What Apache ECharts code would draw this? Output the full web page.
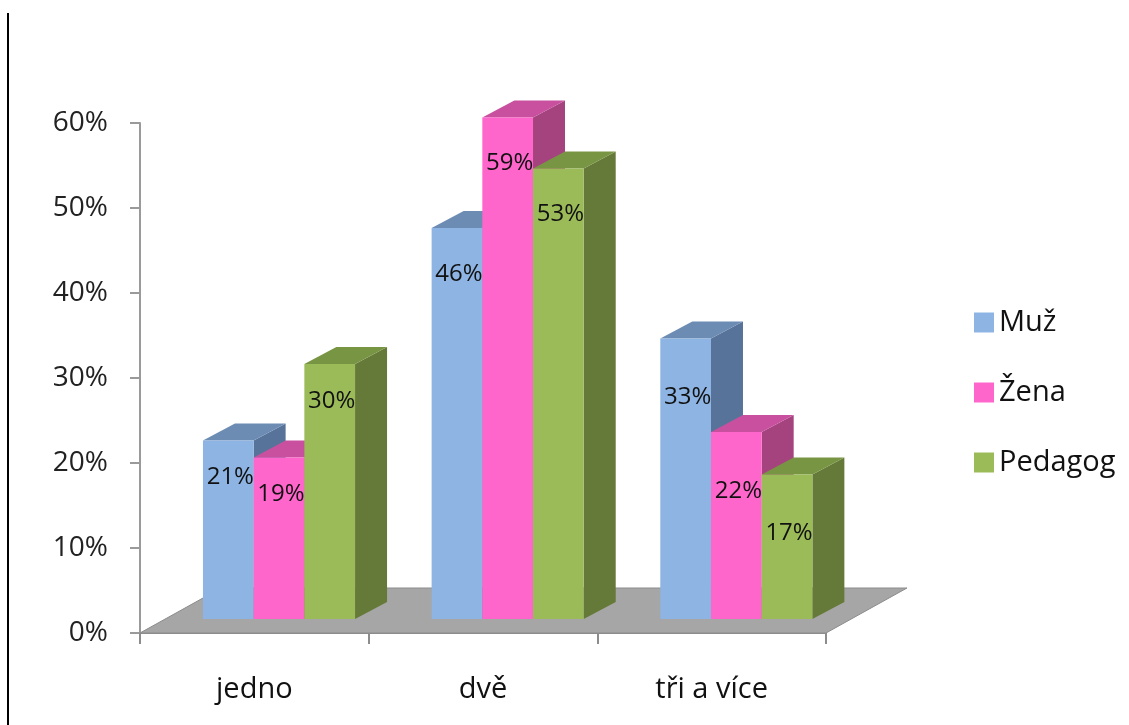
<!DOCTYPE html>
<html>
<head>
<meta charset="utf-8">
<style>
  html, body { margin: 0; padding: 0; background: #fff; }
  #chart { width: 1129px; height: 725px; }
</style>
<script src="https://cdn.jsdelivr.net/npm/echarts@6/dist/echarts.min.js"></script>
</head>
<body>
<div id="chart"></div>
<script>
const categories = ["jedno", "dvě", "tři a více"];
const seriesNames = ["Muž", "Žena", "Pedagog"];
const muz = [21, 46, 33];
const zena = [19, 59, 22];
const pedagog = [30, 53, 17];

const FONT = "Open Sans";
// front / top / side shades per series
const shades = [
  ["#8DB4E2", "#6D8CB4", "#58739A"],
  ["#FF66CC", "#C8509F", "#A5437F"],
  ["#9BBB59", "#789543", "#657A38"],
];
// bar plane offset from the axis plane, bar depth, floor depth
const plane = [25, -14];
const depth = [32, -17];
const floorDepth = [81, -45];
const labelDrop = [37, 46, 59];

function barRender(si) {
  return function (params, api) {
    const idx = api.value(0);
    const v = api.value(1);
    const band = api.size([1, 0])[0];
    const top = api.coord([idx, v]);
    const base = api.coord([idx, 0]);
    const w = band * 0.2217;
    const x0 = top[0] - band / 2 + band * 0.166 + si * w + plane[0];
    const x1 = x0 + w;
    const yT = top[1] + plane[1];
    const yB = base[1] + plane[1];
    const [dx, dy] = depth;
    const s = shades[si];
    return {
      type: "group",
      children: [
        {
          type: "polygon",
          shape: { points: [[x1, yT], [x1 + dx, yT + dy], [x1 + dx, yB + dy], [x1, yB]] },
          style: { fill: s[2] },
        },
        {
          type: "polygon",
          shape: { points: [[x0, yT], [x1, yT], [x1 + dx, yT + dy], [x0 + dx, yT + dy]] },
          style: { fill: s[1] },
        },
        {
          type: "rect",
          shape: { x: x0, y: yT, width: w, height: yB - yT },
          style: { fill: s[0] },
        },
        {
          type: "text",
          z2: 100,
          x: x0 + w / 2 + 2,
          y: yT + labelDrop[idx],
          style: {
            text: v + "%",
            font: "24px '" + FONT + "'",
            fill: "#111",
            align: "center",
            verticalAlign: "middle",
          },
        },
      ],
    };
  };
}

function floorRender(params, api) {
  const cs = params.coordSys;
  const xl = cs.x, xr = cs.x + cs.width, yb = cs.y + cs.height;
  const [dx, dy] = floorDepth;
  return {
    type: "polygon",
    shape: { points: [[xl, yb], [xr, yb], [xr + dx, yb + dy], [xl + dx, yb + dy]] },
    style: { fill: "#A6A6A6", stroke: "#8C8C8C", lineWidth: 1 },
  };
}

const chart = echarts.init(document.getElementById("chart"));

const seriesData = [muz, zena, pedagog];

chart.setOption({
  animation: false,
  backgroundColor: "#fff",
  textStyle: { fontFamily: FONT },
  grid: { left: 140, right: 303, top: 123, bottom: 92 },
  legend: {
    data: seriesNames,
    orient: "vertical",
    left: 969,
    top: 303,
    icon: "rect",
    itemWidth: 20,
    itemHeight: 20,
    itemGap: 41,
    textStyle: { fontFamily: FONT, fontSize: 29, color: "#111", lineHeight: 20 },
  },
  xAxis: {
    type: "category",
    data: categories,
    axisLine: { show: true, lineStyle: { color: "#8C8C8C", width: 2 } },
    axisTick: { show: true, length: 11, lineStyle: { color: "#8C8C8C", width: 2 } },
    axisLabel: { fontFamily: FONT, fontSize: 29, color: "#111", margin: 42 },
  },
  yAxis: {
    type: "value",
    min: 0,
    max: 60,
    interval: 10,
    axisLine: { show: true, lineStyle: { color: "#9A9A9A", width: 2 } },
    axisTick: { show: true, length: 10, lineStyle: { color: "#9A9A9A", width: 2 } },
    splitLine: { show: false },
    axisLabel: {
      fontFamily: FONT,
      fontSize: 28,
      color: "#222",
      margin: 32,
      formatter: (v) => v + "%",
    },
  },
  graphic: [
    {
      type: "line",
      shape: { x1: 8, y1: 13, x2: 8, y2: 725 },
      style: { stroke: "#000", lineWidth: 2 },
    },
  ],
  series: [
    {
      name: "floor",
      type: "custom",
      silent: true,
      renderItem: floorRender,
      data: [[0, 0]],
      encode: { x: 0, y: 1 },
    },
  ].concat(
    seriesNames.map((name, si) => ({
      name,
      type: "custom",
      itemStyle: { color: shades[si][0] },
      renderItem: barRender(si),
      data: seriesData[si].map((v, i) => [i, v]),
      encode: { x: 0, y: 1 },
    }))
  ),
});
</script>
</body>
</html>
